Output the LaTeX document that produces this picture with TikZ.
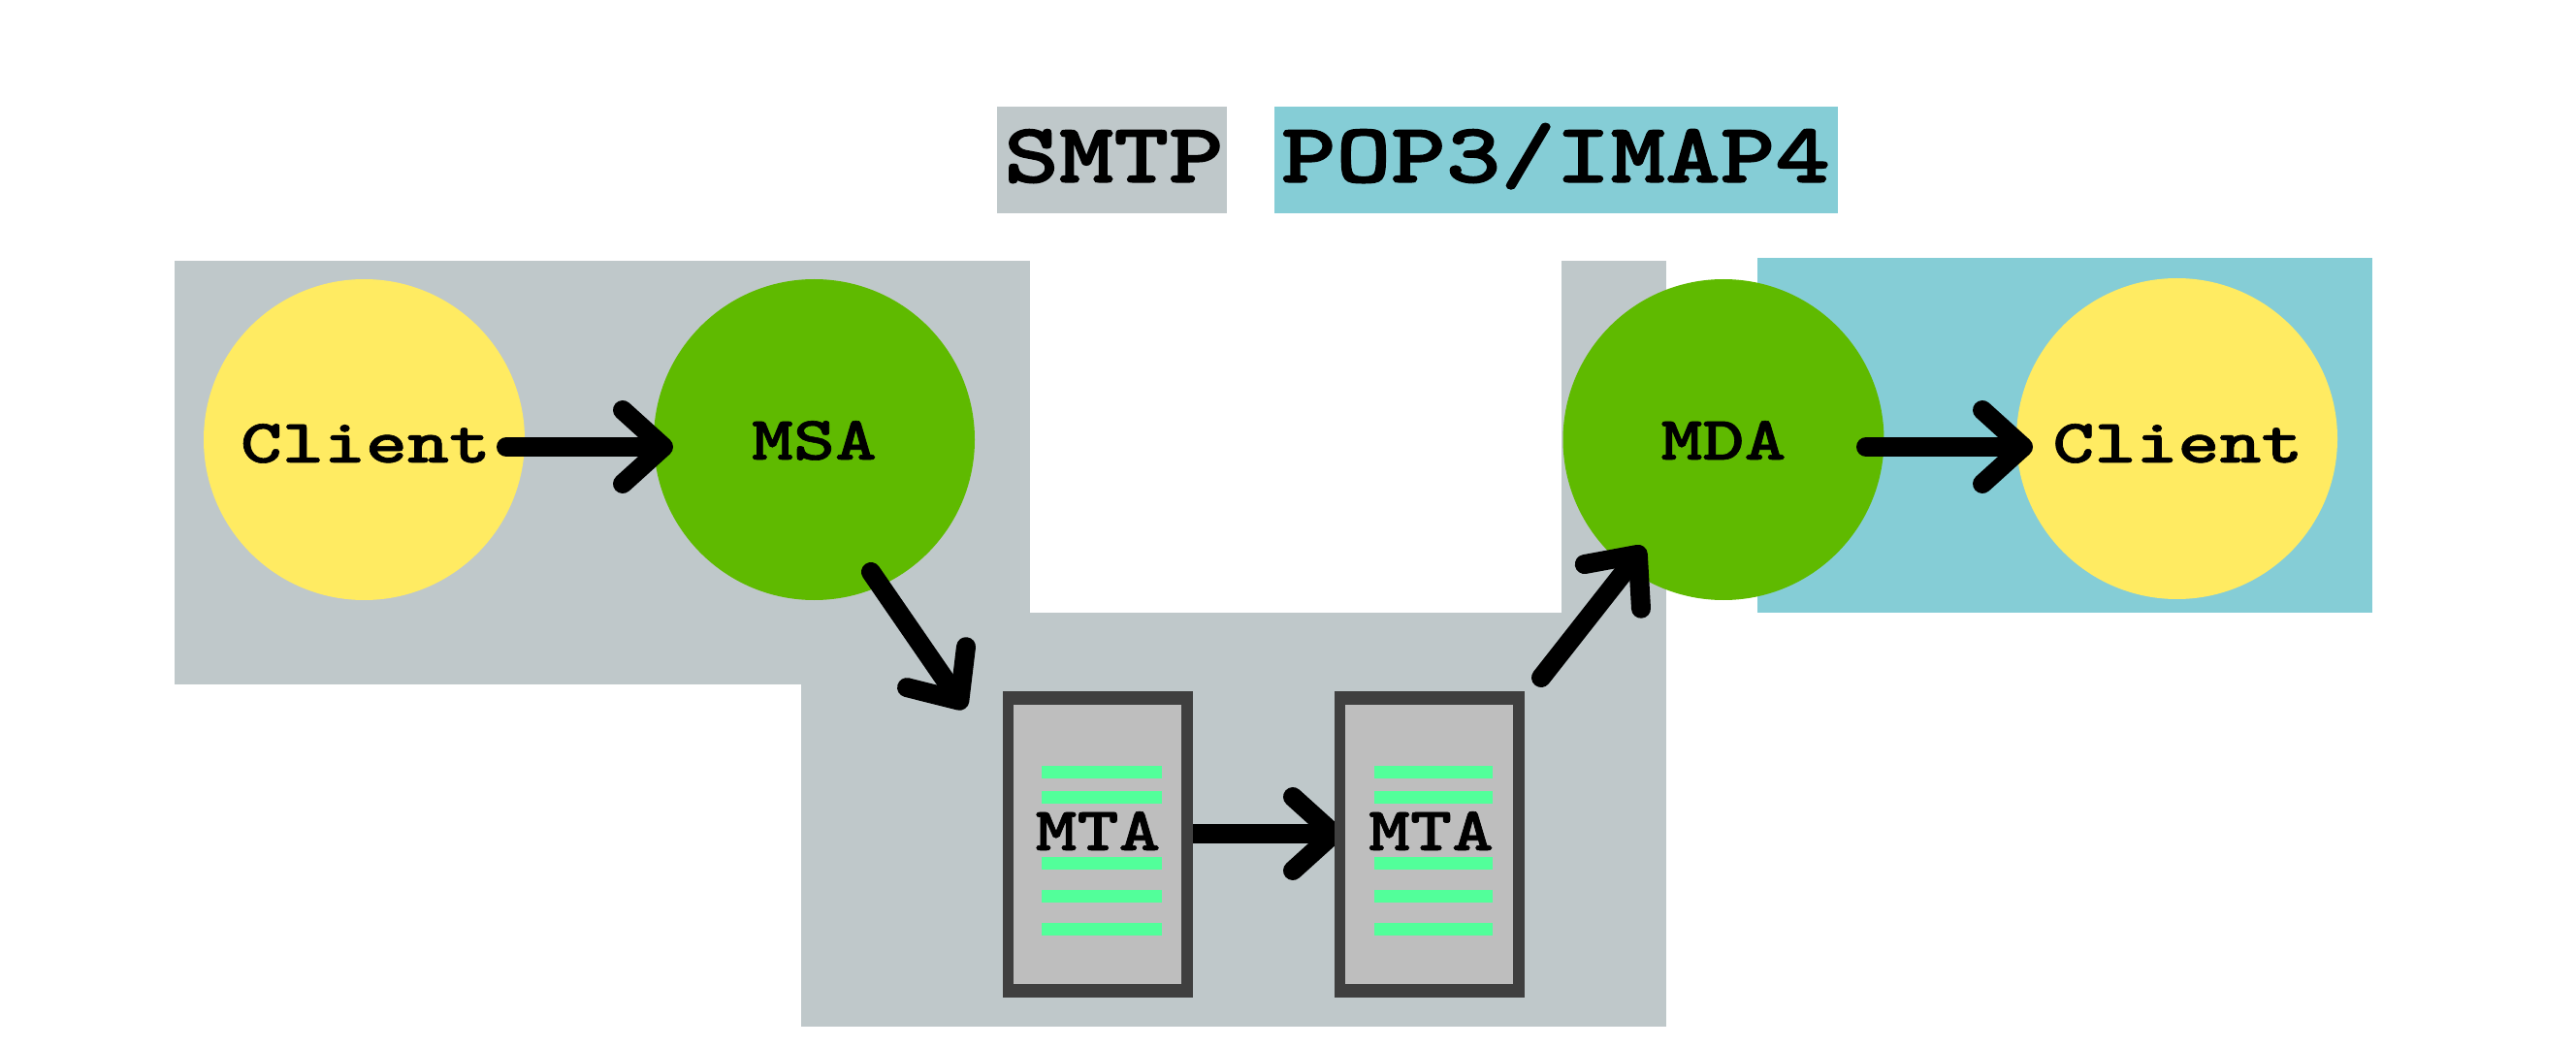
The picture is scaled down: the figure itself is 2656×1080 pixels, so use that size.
\documentclass[tikz,border=0pt]{standalone}
\usepackage{fontspec}
\usepackage{graphicx}
\usetikzlibrary{arrows.meta}
\definecolor{smtpgray}{HTML}{BFC8CA}
\definecolor{popteal}{HTML}{85CDD6}
\definecolor{clientyellow}{HTML}{FFEB62}
\definecolor{agentgreen}{HTML}{5FBA00}
\definecolor{boxedge}{HTML}{3F3F3F}
\definecolor{boxfill}{HTML}{BEBEBE}
\definecolor{barmint}{HTML}{52FF9A}
\newcommand{\heavyon}[1]{\special{pdf:code 2 Tr #1 w}}
\newcommand{\heavyoff}{\special{pdf:code 0 Tr 1 w}}
\newcommand{\smalltxt}[1]{\scalebox{1.28}[1]{\fontsize{32}{38}\selectfont\ttfamily\bfseries\heavyon{0.3}#1\heavyoff}}
\newcommand{\bigtxt}[1]{\scalebox{1.225}[1]{\fontsize{44}{52}\selectfont\ttfamily\bfseries\heavyon{0.55}#1\heavyoff}}
\tikzset{
  agent/.style={circle,inner sep=0pt,minimum size=165.5pt,fill=agentgreen},
  client/.style={circle,inner sep=0pt,minimum size=165.5pt,fill=clientyellow},
  lbl/.style={anchor=base,inner sep=0pt,text=black},
  flow/.style={line width=10pt,line cap=round,-{Straight Barb[round,length=21pt,width=38pt]}},
  slant/.style={line width=10pt,line cap=round,-{Straight Barb[round,length=21pt,width=37pt]}},
  tower/.style={rectangle,inner sep=0pt,minimum width=98pt,minimum height=158pt,fill=boxedge},
  towerin/.style={rectangle,inner sep=0pt,minimum width=86.5pt,minimum height=144pt,fill=boxfill},
  legend/.style={rectangle,inner sep=0pt,minimum height=55pt}
}
\begin{document}
\begin{tikzpicture}[x=0.5pt,y=-0.5pt]
\useasboundingbox (0,0) rectangle (2656,1080);
% zones
\fill[smtpgray] (180,269) rectangle (1062,706);
\fill[smtpgray] (826,632) rectangle (1717.5,1059);
\fill[smtpgray] (1610,269) rectangle (1717.5,632);
\fill[popteal] (1812,266) rectangle (2446,632);
% legend
\node[legend,fill=smtpgray,minimum width=118.5pt] (legsmtp) at (1146.5,165) {};
\node[legend,fill=popteal,minimum width=290.5pt] (legpop) at (1604.5,165) {};
\node[lbl] (legsmtptxt) at (1148.5,188) {\bigtxt{SMTP}};
\node[lbl] (legpoptxt) at (1604,188) {\bigtxt{POP3/IMAP4}};
% agents
\node[client] (c1) at (375.5,453.5) {};
\node[agent] (msa) at (839.5,453.5) {};
\node[agent] (mda) at (1777,453.5) {};
\node[client] (c2) at (2244.5,452.5) {};
% connector ends
\coordinate (c1out) at (522,461);
\coordinate (msain) at (694,461);
\coordinate (msaout) at (898,590);
\coordinate (mta1end) at (995,731);
\coordinate (mta1out) at (1225,860);
\coordinate (mta2end) at (1385,860);
\coordinate (mta2out) at (1589,699);
\coordinate (mdain) at (1695,564);
\coordinate (mdaout) at (1924,461);
\coordinate (c2in) at (2096,461);
% connectors
\draw[flow] (c1out) -- (msain);
\draw[slant] (msaout) -- (mta1end);
\draw[flow] (mta1out) -- (mta2end);
\draw[slant] (mta2out) -- (mdain);
\draw[flow] (mdaout) -- (c2in);
% towers
\node[tower] (mta1) at (1132,871) {};
\node[towerin] (mta1in) at (1131.5,871) {};
\node[tower] (mta2) at (1474,871) {};
\node[towerin] (mta2in) at (1473.5,871) {};
\foreach \y in {790,816,884,918,952}{
  \fill[barmint] (1074,\y) rectangle (1197.5,\y+13);
  \fill[barmint] (1417,\y) rectangle (1539,\y+13);
}
% labels
\node[lbl] (c1txt) at (377,477) {\smalltxt{Client}};
\node[lbl] (msatxt) at (839.5,474) {\smalltxt{MSA}};
\node[lbl] (mdatxt) at (1777,474) {\smalltxt{MDA}};
\node[lbl] (c2txt) at (2245.5,477) {\smalltxt{Client}};
\node[lbl] (mta1txt) at (1132,877) {\smalltxt{MTA}};
\node[lbl] (mta2txt) at (1475.5,877) {\smalltxt{MTA}};
\end{tikzpicture}
\end{document}
